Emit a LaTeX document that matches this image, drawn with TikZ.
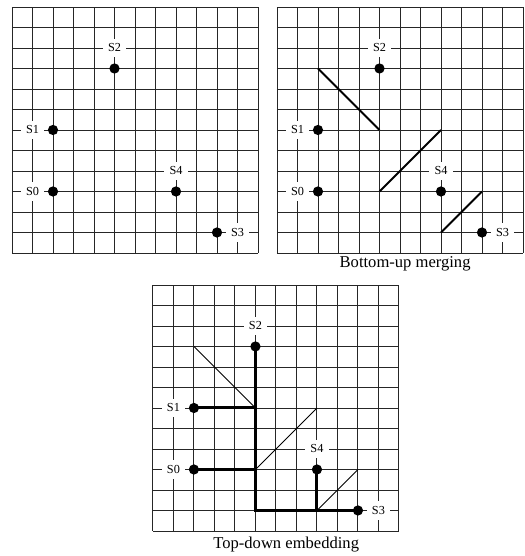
\documentclass[tikz,border=0pt]{standalone}
\usepackage{fontspec}
\setmainfont{Liberation Serif}
\usetikzlibrary{positioning}

\tikzset{
  gridline/.style={line width=0.65pt,black!85},
  sink/.style={circle,fill=black,inner sep=0pt,minimum size=2.5mm},
  lbl/.style={fill=white,inner sep=0pt,minimum width=5.8mm,minimum height=4.6mm,font=\fontsize{8.5}{9}\selectfont},
  merge/.style={line width=1.4pt},
  arc/.style={line width=0.65pt},
  tree/.style={line width=2.1pt},
  caption/.style={anchor=north,inner sep=0pt,font=\fontsize{11.5}{13}\selectfont}
}

% the five sinks of one panel, prefix #1
\newcommand{\sinkset}[1]{%
  \draw[gridline,step={(1,1)}] (0,0) grid (12,12);
  \node[lbl] (#1l2) at (5,10) {S2};
  \node[lbl] (#1l1) at (1,6) {S1};
  \node[lbl] (#1l0) at (1,3) {S0};
  \node[lbl] (#1l4) at (8,4) {S4};
  \node[lbl] (#1l3) at (11,1) {S3};
  \coordinate (#1s0) at (2,3);
  \coordinate (#1s1) at (2,6);
  \coordinate (#1s2) at (5,9);
  \coordinate (#1s3) at (10,1);
  \coordinate (#1s4) at (8,3);
}
\newcommand{\sinkdots}[1]{%
  \foreach \i in {0,...,4} {\node[sink] (#1d\i) at (#1s\i) {};}
}

\begin{document}
\begin{tikzpicture}[x=5mm,y=5mm]
  \useasboundingbox (0,0) rectangle (25.56,27.12);

  % initial sinks
  \begin{scope}[shift={(0.585,14.78)}]
    \sinkset{a}
    \sinkdots{a}
  \end{scope}

  % bottom-up merging
  \begin{scope}[shift={(13.51,14.78)}]
    \sinkset{b}
    \coordinate (bm1a) at (2,9);  \coordinate (bm1b) at (5,6);
    \coordinate (bm2a) at (5,3);  \coordinate (bm2b) at (8,6);
    \coordinate (bm3a) at (8,1);  \coordinate (bm3b) at (10,3);
    \draw[merge] (bm1a) -- (bm1b);
    \draw[merge] (bm2a) -- (bm2b);
    \draw[merge] (bm3a) -- (bm3b);
    \sinkdots{b}
    \node[caption] (bcap) at (6.25,-0.15) {Bottom-up merging};
  \end{scope}

  % top-down embedding
  \begin{scope}[shift={(7.46,1.22)}]
    \sinkset{c}
    \coordinate (cm1a) at (2,9);  \coordinate (cm1b) at (5,6);
    \coordinate (cm2a) at (5,3);  \coordinate (cm2b) at (8,6);
    \coordinate (cm3a) at (8,1);  \coordinate (cm3b) at (10,3);
    \draw[arc] (cm1a) -- (cm1b);
    \draw[arc] (cm2a) -- (cm2b);
    \draw[arc] (cm3a) -- (cm3b);
    \draw[tree] (cs2) -- (cs2 |- cs3) -- (cs3);
    \draw[tree] (cs1) -- (cs1 -| cs2);
    \draw[tree] (cs0) -- (cs0 -| cs2);
    \draw[tree] (cs4) -- (cs4 |- cs3);
    \sinkdots{c}
    \node[caption] (ccap) at (6.5,-0.3) {Top-down embedding};
  \end{scope}
\end{tikzpicture}
\end{document}
